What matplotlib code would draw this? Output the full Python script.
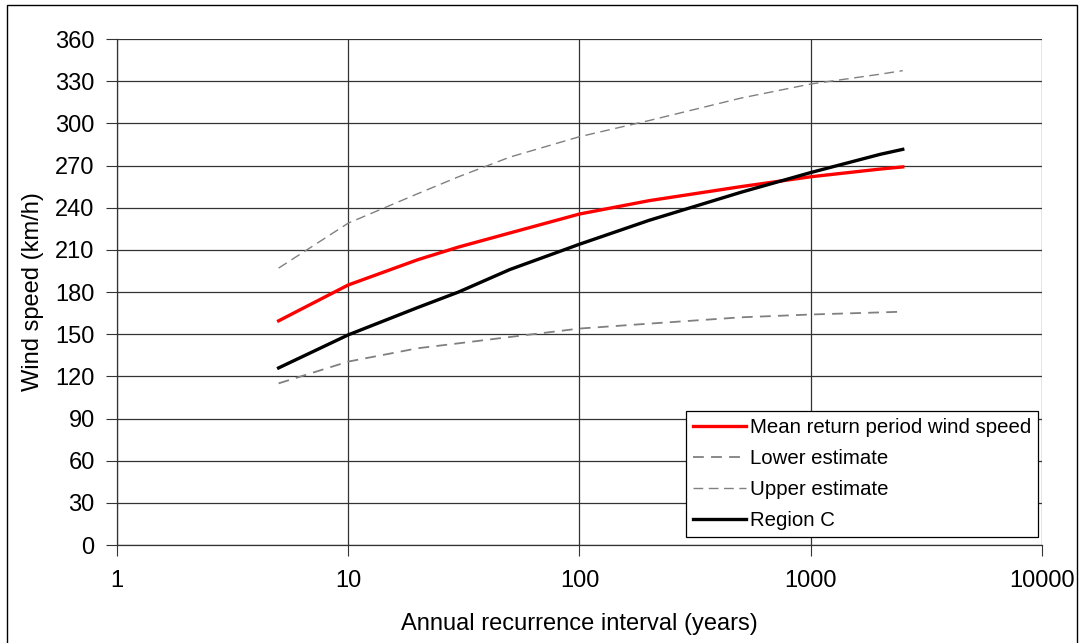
#!/usr/bin/env python3
"""Return period wind speed curves for Region C."""

import matplotlib

matplotlib.use("Agg")
import matplotlib.pyplot as plt
from matplotlib.patches import Rectangle

plt.rcParams["font.family"] = ["Liberation Sans", "DejaVu Sans"]

years = [5, 10, 20, 30, 50, 100, 200, 500, 1000, 2000, 2500]
mean_speed = [159.5, 185, 203, 212, 222, 235.5, 245, 255, 262, 267.5, 269]
lower_est = [115, 130.5, 140, 143.5, 148, 154, 157.5, 162, 164, 165.5, 166]
upper_est = [197, 229, 250, 262, 276, 290.5, 302, 318, 328, 335, 337.5]
region_c = [126, 149.5, 169, 180, 196, 214, 231, 251, 265, 278, 281.5]

x_ticks = [1, 10, 100, 1000, 10000]
y_ticks = list(range(0, 361, 30))


def main() -> None:
    fig = plt.figure(figsize=(10.81, 6.43), dpi=100)
    ax = fig.add_axes([0.1082, 0.1524, 0.8557, 0.7869])

    ax.plot(years, mean_speed, color="#FF0000", linewidth=2.4,
            label="Mean return period wind speed", zorder=4)
    ax.plot(years, lower_est, color="#808080", linewidth=1.3,
            linestyle=(0, (6, 4)), label="Lower estimate", zorder=3)
    ax.plot(years, upper_est, color="#808080", linewidth=1.0,
            linestyle=(0, (7, 4)), label="Upper estimate", zorder=3)
    ax.plot(years, region_c, color="black", linewidth=2.4,
            label="Region C", zorder=4)

    ax.set_xscale("log")
    ax.set_xlim(1, 10000)
    ax.set_ylim(0, 360)
    ax.set_xticks(x_ticks)
    ax.set_xticklabels([str(v) for v in x_ticks])
    ax.xaxis.set_minor_locator(matplotlib.ticker.NullLocator())
    ax.set_yticks(y_ticks)
    ax.tick_params(axis="both", labelsize=17, direction="out", length=8,
                   width=0.8, color="#333333", pad=8)
    ax.tick_params(axis="x", pad=10)

    ax.grid(True, which="major", color="#333333", linewidth=0.9)
    ax.set_axisbelow(True)
    for side in ("top", "right"):
        ax.spines[side].set_visible(False)
    for side in ("left", "bottom"):
        ax.spines[side].set_color("#333333")
        ax.spines[side].set_linewidth(0.9)

    ax.set_xlabel("Annual recurrence interval (years)", fontsize=17, labelpad=15)
    ax.set_ylabel("Wind speed (km/h)", fontsize=17, labelpad=8)

    leg = ax.legend(loc="lower right", bbox_to_anchor=(0.9957, 0.0158),
                    fontsize=14.7, frameon=True, fancybox=False,
                    edgecolor="black", framealpha=1.0, handlelength=2.55,
                    handletextpad=0.2, borderpad=0.35, labelspacing=0.58,
                    borderaxespad=0.0)
    leg.get_frame().set_linewidth(0.9)

    fig.patches.append(Rectangle((7 / 1081, -0.01), 1070 / 1081, 1 - 5 / 643 + 0.01,
                                 transform=fig.transFigure, fill=False,
                                 edgecolor="black", linewidth=1.0))

    fig.savefig("out.png", dpi=100)
    plt.close(fig)


if __name__ == "__main__":
    main()
